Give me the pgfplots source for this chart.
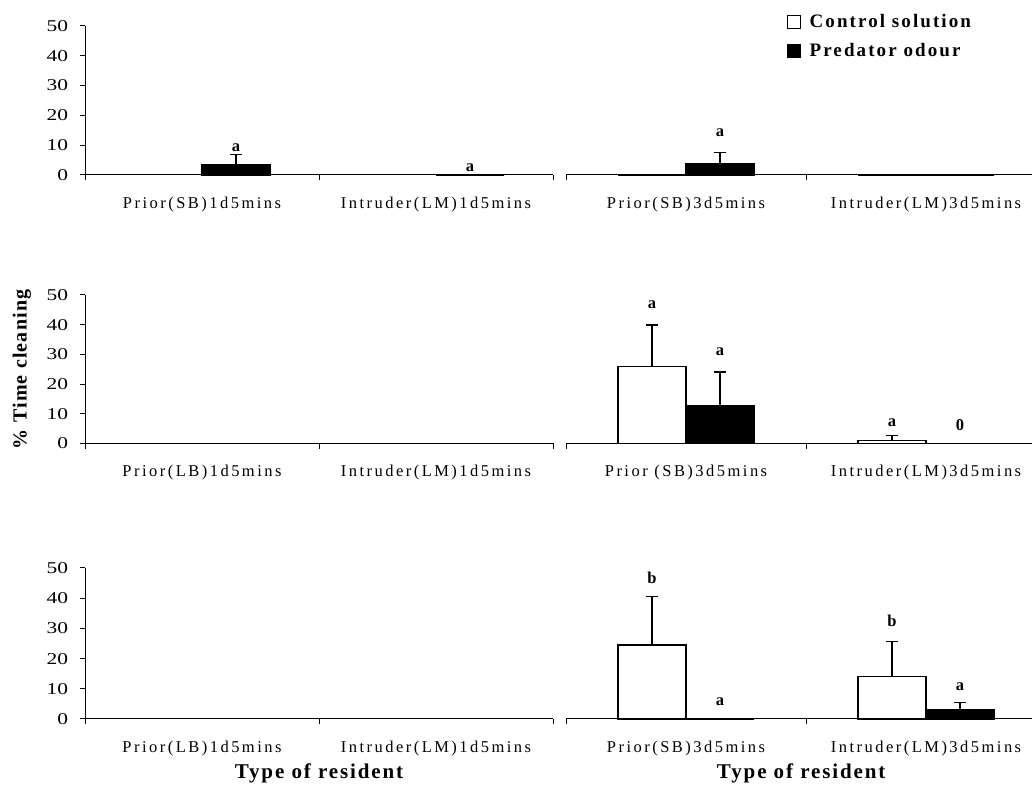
\documentclass[border=0pt]{standalone}
\usepackage{pgfplots}
\pgfplotsset{compat=1.18}
\usepackage{fontspec}
\setmainfont{Liberation Serif}
\newfontfamily\tickfam{Liberation Serif}[LetterSpace=15]
\newfontfamily\numfam{Liberation Serif}[FakeStretch=1.3]
\newfontfamily\titlefam{Liberation Serif}[LetterSpace=9]
\newfontfamily\yfam{Liberation Serif}[LetterSpace=6]
\newfontfamily\legfam{Liberation Serif}[LetterSpace=11]
\newcommand\tickfont{\tickfam\fontsize{16.5bp}{18bp}\selectfont}
\newcommand\numfont{\numfam\fontsize{16.5bp}{18bp}\selectfont}
\newcommand\titlefont{\titlefam\bfseries\fontsize{21bp}{24bp}\selectfont}
\newcommand\ylabfont{\yfam\bfseries\fontsize{20bp}{24bp}\selectfont}
\newcommand\legfont{\legfam\bfseries\fontsize{19bp}{22bp}\selectfont}
\newcommand\labfont{\rmfamily\bfseries\fontsize{16.5bp}{18bp}\selectfont}

\tikzset{lab/.style={font=\labfont, inner sep=0pt, anchor=center}}

\pgfplotsset{
  panel/.style={
    scale only axis, clip=false,
    xmin=-0.5, xmax=1.5, ymin=0, ymax=50,
    axis x line*=bottom,
    axis line style={line width=1bp, black},
    tick align=outside,
    xtick={0,1},
    minor xtick={-0.5,0.5,1.5},
    major x tick style={draw=none},
    minor x tick style={draw=black, line width=1bp},
    minor tick length=5.5bp,
    major tick length=5.5bp,
    x tick label style={font=\tickfont, anchor=center, yshift=-24bp},
    /pgf/number format/assume math mode=true,
  },
  leftpanel/.style={
    panel, width=468bp,
    axis y line*=left,
    ytick={0,10,20,30,40,50},
    y tick style={draw=black, line width=1bp},
    y tick label style={font=\numfont, xshift=-8bp},
  },
  rightpanel/.style={
    panel, width=480bp,
    axis y line=none, ytick=\empty,
  },
  barbase/.style={ybar, bar width=68bp, draw=black, line width=1.2bp},
  ctrl/.style={barbase, fill=white, bar shift=-34bp},
  pred/.style={barbase, fill=black, bar shift=34bp},
  % upper error bars, drawn over the bar centres
  errbase/.style={forget plot, draw=none, mark=none,
    error bars/y dir=plus, error bars/y explicit,
    error bars/error bar style={draw=black, line width=1.2bp},
    error bars/error mark options={rotate=90, draw=black, line width=1.2bp, mark size=6bp}},
  ctrlerr/.style={errbase, xshift=-34bp},
  prederr/.style={errbase, xshift=34bp},
}

\begin{document}
\begin{tikzpicture}[x=1bp,y=1bp]
\path[use as bounding box] (0,0) rectangle (1032,787);

% Row 1, 1 day
\begin{axis}[leftpanel, at={(85bp,612bp)}, height=149bp,
  xticklabels={Prior(SB)1d5mins, Intruder(LM)1d5mins}]
  \addplot[pred] coordinates {(0,3.5) (1,0)};
  \addplot[prederr] coordinates {(0,3.5) += (0,3.4) (1,0) += (0,0)};
  \node[lab, xshift=34bp] at (axis cs:0,9.1) {a};
  \node[lab, xshift=34bp] at (axis cs:1,2.4) {a};
\end{axis}

% Row 1, 3 days (carries the legend)
\begin{axis}[rightpanel, at={(566bp,612bp)}, height=149bp,
  xticklabels={Prior(SB)3d5mins, Intruder(LM)3d5mins},
  legend style={draw=none, fill=none, inner sep=0pt, font=\legfont,
    at={(rel axis cs:0.459,1.09)}, anchor=north west, row sep=10bp},
  legend cell align=left,
  legend image code/.code={\draw[#1, line width=1bp] (0bp,-6.5bp) rectangle (13bp,6.5bp);
    \path (20bp,0bp);}]
  \addplot[ctrl] coordinates {(0,0) (1,0)};
  \addplot[pred] coordinates {(0,3.8) (1,0)};
  \legend{Control solution, Predator odour}
  \addplot[ctrlerr] coordinates {(0,0) += (0,0) (1,0) += (0,0)};
  \addplot[prederr] coordinates {(0,3.8) += (0,3.7) (1,0) += (0,0)};
  \node[lab, xshift=34bp] at (axis cs:0,14.2) {a};
\end{axis}

% Row 2, 1 day
\begin{axis}[leftpanel, at={(85bp,343.5bp)}, height=148.5bp,
  xticklabels={Prior(LB)1d5mins, Intruder(LM)1d5mins},
  ylabel={\% Time cleaning},
  ylabel style={font=\ylabfont, at={(axis description cs:-0.1346,0.5)}, anchor=center}]
\end{axis}

% Row 2, 3 days
\begin{axis}[rightpanel, at={(566bp,343.5bp)}, height=148.5bp,
  xticklabels={Prior (SB)3d5mins, Intruder(LM)3d5mins}]
  \addplot[ctrl] coordinates {(0,25.8) (1,1.1)};
  \addplot[pred] coordinates {(0,12.6) (1,0)};
  \addplot[ctrlerr] coordinates {(0,25.8) += (0,14.1) (1,1.1) += (0,1.6)};
  \addplot[prederr] coordinates {(0,12.6) += (0,11.5) (1,0) += (0,0)};
  \node[lab, xshift=-34bp] at (axis cs:0,46.6) {a};
  \node[lab, xshift=34bp] at (axis cs:0,30.9) {a};
  \node[lab, xshift=-34bp] at (axis cs:1,6.9) {a};
  \node[lab, xshift=34bp] at (axis cs:1,6.1) {0};
\end{axis}

% Row 3, 1 day
\begin{axis}[leftpanel, at={(85bp,68bp)}, height=151bp,
  xticklabels={Prior(LB)1d5mins, Intruder(LM)1d5mins},
  xlabel={Type of resident},
  xlabel style={font=\titlefont, at={(axis description cs:0.5,-0.3576)}, anchor=center}]
\end{axis}

% Row 3, 3 days
\begin{axis}[rightpanel, at={(566bp,68bp)}, height=151bp,
  xticklabels={Prior(SB)3d5mins, Intruder(LM)3d5mins},
  xlabel={Type of resident},
  xlabel style={font=\titlefont, at={(axis description cs:0.49,-0.3576)}, anchor=center}]
  \addplot[ctrl] coordinates {(0,24.5) (1,14.0)};
  \addplot[pred] coordinates {(0,0) (1,3.0)};
  \addplot[ctrlerr] coordinates {(0,24.5) += (0,16.0) (1,14.0) += (0,11.6)};
  \addplot[prederr] coordinates {(0,0) += (0,0) (1,3.0) += (0,2.4)};
  \node[lab, xshift=-34bp] at (axis cs:0,46.8) {b};
  \node[lab, xshift=34bp] at (axis cs:0,5.7) {a};
  \node[lab, xshift=-34bp] at (axis cs:1,32.4) {b};
  \node[lab, xshift=34bp] at (axis cs:1,10.7) {a};
\end{axis}
\end{tikzpicture}
\end{document}
